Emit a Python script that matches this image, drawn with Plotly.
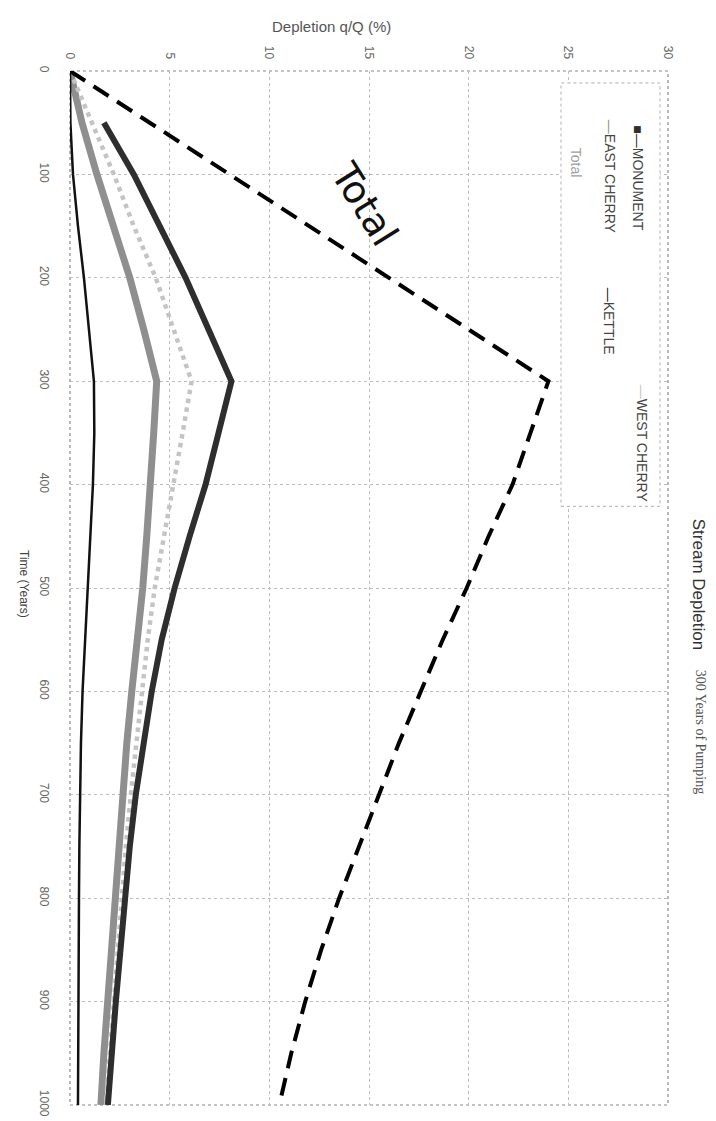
import plotly.graph_objects as go

# ---- data ----
time_years = [0, 50, 100, 150, 200, 250, 300, 350, 400, 450, 500,
              550, 600, 650, 700, 750, 800, 850, 900, 950, 1000]
total = [0.0, 4.0, 8.0, 12.0, 16.0, 20.0, 24.0, 23.1, 22.2, 21.0, 19.9,
         18.7, 17.6, 16.5, 15.5, 14.5, 13.5, 12.6, 11.8, 11.1, 10.5]
monument = [None, 1.7, 3.2, 4.5, 5.8, 6.95, 8.1, 7.45, 6.8, 6.0, 5.25,
            4.6, 4.1, 3.7, 3.3, 3.0, 2.75, 2.5, 2.3, 2.1, 1.9]
west_cherry = [0.0, 1.1, 2.2, 3.2, 4.3, 5.2, 6.1, 5.65, 5.2, 4.7, 4.25,
               3.9, 3.6, 3.3, 3.05, 2.8, 2.6, 2.4, 2.15, 1.95, 1.8]
east_cherry = [0.0, 0.6, 1.35, 2.2, 3.0, 3.7, 4.35, 4.2, 4.05, 3.85, 3.65,
               3.35, 3.1, 2.85, 2.65, 2.45, 2.25, 2.05, 1.85, 1.7, 1.55]
kettle = [0.0, 0.02, 0.15, 0.4, 0.7, 0.95, 1.2, 1.22, 1.15, 1.02, 0.9,
          0.75, 0.63, 0.55, 0.5, 0.47, 0.45, 0.43, 0.42, 0.41, 0.4]

depletion_ticks = [0, 5, 10, 15, 20, 25, 30]
time_ticks = [0, 100, 200, 300, 400, 500, 600, 700, 800, 900, 1000]

# ---- geometry helpers (pixel -> paper) ----
W, H = 716, 1121
L, R, T, B = 62, 660, 63, 1101


def px(x):
    return (x - L) / (R - L)


def py(y):
    return 1 - (y - T) / (B - T)


fig = go.Figure()

fig.add_trace(go.Scatter(x=east_cherry, y=time_years, mode="lines",
                         line=dict(color="#8f8f8f", width=7), name="EAST CHERRY"))
fig.add_trace(go.Scatter(x=west_cherry, y=time_years, mode="lines",
                         line=dict(color="#c4c4c4", width=4.5, dash="dot"), name="WEST CHERRY"))
fig.add_trace(go.Scatter(x=monument, y=time_years, mode="lines",
                         line=dict(color="#2e2e2e", width=6), name="MONUMENT"))
fig.add_trace(go.Scatter(x=kettle, y=time_years, mode="lines",
                         line=dict(color="#111111", width=2.5), name="KETTLE"))
fig.add_trace(go.Scatter(x=total, y=time_years, mode="lines",
                         line=dict(color="#000000", width=4, dash="18px,10px"), name="Total"))

tickfont = dict(family="Liberation Sans", size=12, color="#666666")

fig.update_layout(
    width=W, height=H, autosize=False,
    margin=dict(l=L, r=W - R, t=T, b=H - B),
    paper_bgcolor="white", plot_bgcolor="white",
    showlegend=False,
    xaxis=dict(side="top", range=[0, 30], tickvals=depletion_ticks,
               tickangle=90, tickfont=tickfont, ticks="", ticklabelstandoff=9,
               showgrid=True, gridcolor="#bdbdbd", griddash="dot", gridwidth=1,
               zeroline=False, showline=False),
    yaxis=dict(range=[1000, 0], tickvals=time_ticks, tickangle=90,
               tickfont=tickfont, ticks="", ticklabelstandoff=17,
               showgrid=True, gridcolor="#bdbdbd", griddash="dot", gridwidth=1,
               zeroline=False, showline=False),
)

# plot frame (dotted, as in the scan)
fig.add_shape(type="rect", xref="paper", yref="paper", x0=0, x1=1, y0=0, y1=1,
              line=dict(color="#8a8a8a", width=1.2, dash="dot"), layer="below")

# legend box
fig.add_shape(type="rect", xref="paper", yref="paper",
              x0=px(553), x1=px(652), y0=py(500), y1=py(75),
              line=dict(color="#b0b0b0", width=1, dash="dot"),
              fillcolor="white", layer="above")

legend_entries = [
    ("<span style='color:#2e2e2e'>■—</span>MONUMENT", 630, 115),
    ("<span style='color:#c4c4c4'>—</span>WEST CHERRY", 634, 376),
    ("<span style='color:#8f8f8f'>—</span>EAST CHERRY", 602, 110),
    ("<span style='color:#111111'>—</span>KETTLE", 601, 278),
    ("Total", 568, 138),
]
for txt, x, y in legend_entries:
    fig.add_annotation(text=txt, x=px(x), y=py(y), xref="paper", yref="paper",
                       xanchor="center", yanchor="top", textangle=90, showarrow=False,
                       font=dict(family="Liberation Sans", size=14,
                                 color="#444444" if txt != "Total" else "#a0a0a0"))

# handwritten label next to the dashed total line
fig.add_annotation(text="Total", x=px(356), y=py(197), xref="paper", yref="paper",
                   xanchor="center", yanchor="middle", textangle=58, showarrow=False,
                   font=dict(family="DejaVu Sans", size=38, color="#111111"))

# axis titles
fig.add_annotation(text="Depletion q/Q (%)", x=px(323), y=py(18), xref="paper", yref="paper",
                   xanchor="center", yanchor="middle", showarrow=False,
                   font=dict(family="Liberation Sans", size=15, color="#555555"))
fig.add_annotation(text="Time (Years)", x=px(16), y=py(578), xref="paper", yref="paper",
                   xanchor="center", yanchor="middle", textangle=90, showarrow=False,
                   font=dict(family="Liberation Sans", size=12, color="#444444"))

# chart title (rotated, at right)
fig.add_annotation(text="Stream Depletion", x=px(690), y=py(510), xref="paper", yref="paper",
                   xanchor="center", yanchor="top", textangle=90, showarrow=False,
                   font=dict(family="Liberation Sans", size=17, color="#333333"))
fig.add_annotation(text="300 Years of Pumping", x=px(692), y=py(662), xref="paper", yref="paper",
                   xanchor="center", yanchor="top", textangle=90, showarrow=False,
                   font=dict(family="Liberation Serif", size=14, color="#555555"))

fig.write_html("out.html")
